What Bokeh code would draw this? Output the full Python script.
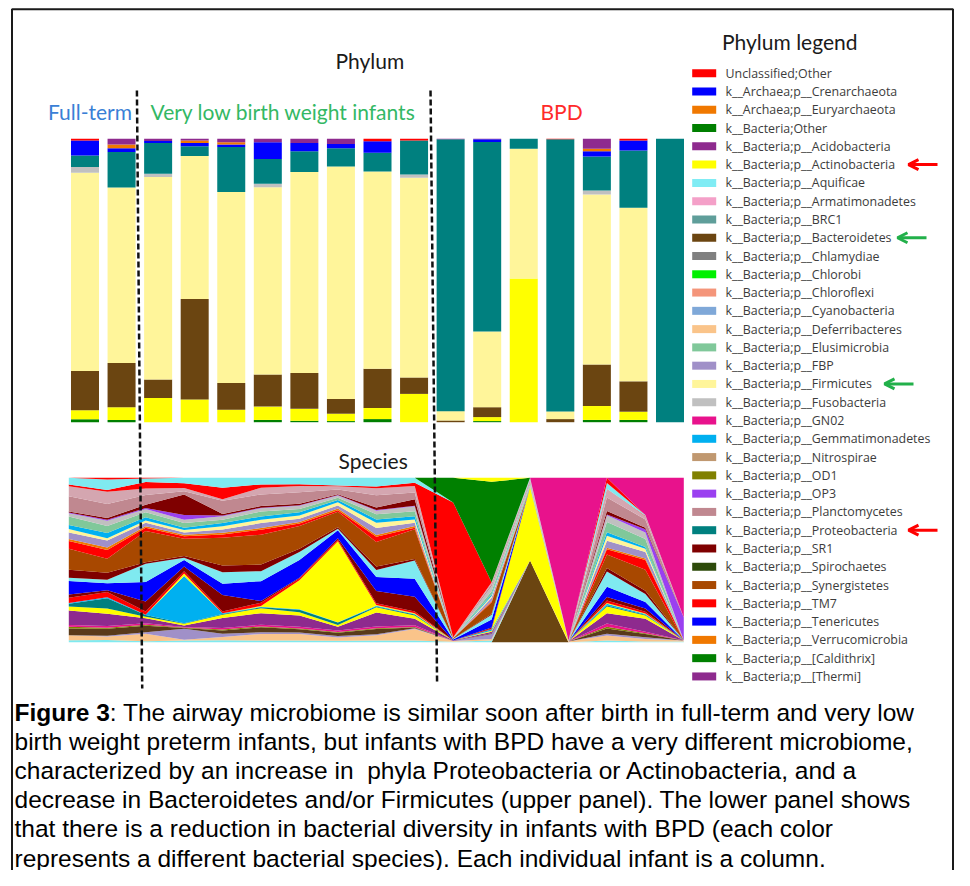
import numpy as np
from bokeh.plotting import figure
from bokeh.models import Range1d, Arrow, OpenHead, ColumnDataSource
from bokeh.embed import file_html
from bokeh.resources import INLINE
from bokeh.core.properties import value

# ---------------- data: phylum bars (percent, 17 infants) ----------------
infants = list(range(1, 18))

bar_bacteria_other = [1.0, 0.8, 0, 0, 0, 0.8, 0.5, 0.4, 1.1, 0, 0, 0.4, 0, 0, 0.8, 0.8, 0]
bar_actinobacteria = [3.2, 4.5, 8.5, 8.0, 4.4, 4.7, 4.2, 2.6, 3.9, 10.0, 0, 1.4, 50.7, 0, 4.9, 2.9, 0]
bar_bacteroidetes = [13.9, 15.6, 6.6, 35.5, 9.4, 11.3, 12.6, 5.2, 13.9, 5.8, 0.6, 3.5, 0, 1.1, 14.6, 10.7, 0]
bar_firmicutes = [70.0, 61.9, 71.4, 50.4, 67.4, 66.1, 70.9, 82.1, 69.6, 70.5, 3.3, 26.7, 45.8, 2.7, 60.0, 61.2, 0]
bar_fusobacteria = [2.0, 0, 1.2, 0, 0, 1.2, 0, 0, 0, 1.2, 0, 0, 0, 0, 1.4, 0, 0]
bar_proteobacteria = [4.1, 12.5, 10.8, 3.5, 15.9, 8.8, 7.3, 6.5, 6.6, 12.0, 95.9, 66.8, 3.5, 96.0, 12.0, 20.2, 100]
bar_tenericutes = [5.3, 1.4, 0.7, 1.1, 0.9, 5.9, 2.9, 1.5, 4.0, 0, 0, 0.9, 0, 0, 1.8, 3.5, 0]
bar_verrucomicrobia = [0, 1.3, 0, 0.9, 0.8, 0, 0, 0, 0, 0, 0, 0, 0, 0, 0.9, 0, 0]
bar_thermi = [0, 2.0, 0.8, 0.6, 1.2, 1.2, 1.5, 1.8, 0, 0, 0.2, 0.2, 0, 0, 3.5, 0, 0]
bar_unclassified = [0.6, 0, 0, 0, 0, 0, 0, 0, 0.9, 0.6, 0, 0, 0, 0.2, 0, 0.6, 0]

phyla = [
    "Unclassified;Other", "k__Archaea;p__Crenarchaeota", "k__Archaea;p__Euryarchaeota",
    "k__Bacteria;Other", "k__Bacteria;p__Acidobacteria", "k__Bacteria;p__Actinobacteria",
    "k__Bacteria;p__Aquificae", "k__Bacteria;p__Armatimonadetes", "k__Bacteria;p__BRC1",
    "k__Bacteria;p__Bacteroidetes", "k__Bacteria;p__Chlamydiae", "k__Bacteria;p__Chlorobi",
    "k__Bacteria;p__Chloroflexi", "k__Bacteria;p__Cyanobacteria", "k__Bacteria;p__Deferribacteres",
    "k__Bacteria;p__Elusimicrobia", "k__Bacteria;p__FBP", "k__Bacteria;p__Firmicutes",
    "k__Bacteria;p__Fusobacteria", "k__Bacteria;p__GN02", "k__Bacteria;p__Gemmatimonadetes",
    "k__Bacteria;p__Nitrospirae", "k__Bacteria;p__OD1", "k__Bacteria;p__OP3",
    "k__Bacteria;p__Planctomycetes", "k__Bacteria;p__Proteobacteria", "k__Bacteria;p__SR1",
    "k__Bacteria;p__Spirochaetes", "k__Bacteria;p__Synergistetes", "k__Bacteria;p__TM7",
    "k__Bacteria;p__Tenericutes", "k__Bacteria;p__Verrucomicrobia", "k__Bacteria;p__[Caldithrix]",
    "k__Bacteria;p__[Thermi]",
]
phylum_colors = [
    "#FF0000", "#0000FF", "#F07800", "#007F00", "#8E2A8E", "#FFFF00", "#80ECF4", "#F4A0C8",
    "#5F9E9A", "#6B4511", "#808080", "#00F000", "#F4957A", "#7FA8D8", "#FAC48A", "#80C89A",
    "#A090C8", "#FFF59A", "#C0C0C0", "#E8128C", "#00B0F0", "#C09870", "#808000", "#9A40F0",
    "#C08890", "#00807F", "#7F0000", "#2D4A0A", "#A84800", "#FF0000", "#0000FF", "#F07800",
    "#008000", "#8E2A8E",
]
bar_values = {
    "Unclassified;Other": bar_unclassified,
    "k__Bacteria;Other": bar_bacteria_other,
    "k__Bacteria;p__Actinobacteria": bar_actinobacteria,
    "k__Bacteria;p__Bacteroidetes": bar_bacteroidetes,
    "k__Bacteria;p__Firmicutes": bar_firmicutes,
    "k__Bacteria;p__Fusobacteria": bar_fusobacteria,
    "k__Bacteria;p__Proteobacteria": bar_proteobacteria,
    "k__Bacteria;p__Tenericutes": bar_tenericutes,
    "k__Bacteria;p__Verrucomicrobia": bar_verrucomicrobia,
    "k__Bacteria;p__[Thermi]": bar_thermi,
}
highlight_red = ["k__Bacteria;p__Actinobacteria", "k__Bacteria;p__Proteobacteria"]
highlight_green = ["k__Bacteria;p__Bacteroidetes", "k__Bacteria;p__Firmicutes"]

# ---------------- data: species stream (relative abundance, bottom -> top) ----------------
sp_brown_bpd = [0, 0, 0, 0, 0, 0, 0, 0, 0, 0, 0, 0, 50, 0, 0, 0, 0]
sp_cyan_base = [1.2, 1.2, 0.6, 1, 1.2, 1, 1, 1, 1, 1, 0.3, 1, 0, 0, 1, 0.5, 0.5]
sp_peach = [3, 2, 4.5, 0.5, 2, 4, 4, 2, 3, 7, 0.5, 1, 0, 0.5, 3, 1.5, 0.5]
sp_lavender_low = [0, 0.5, 1, 7, 2, 1, 1, 1, 0.5, 0.5, 0, 3, 0, 0, 1, 1, 0]
sp_dark_lines = [4, 4, 4, 0.5, 2, 3, 2, 2, 3, 0.5, 0, 0.5, 0, 0, 3, 2, 0]
sp_olive = [1, 0.5, 0.5, 0.3, 0.5, 0.5, 0.5, 0.5, 0.5, 0.3, 0, 0, 0, 0, 1, 0.5, 0]
sp_pink_line = [1, 1, 1, 0.3, 1, 1, 1, 1, 1, 1, 0, 0, 0, 0, 2, 1, 0]
sp_purple = [8.7, 7, 3, 1, 6, 7, 7, 2.5, 8, 4, 0.3, 1, 0, 0, 6, 8, 0]
sp_yellow_thin = [2.4, 3, 1, 1, 2, 3, 2, 1, 3, 2, 0, 0.5, 0, 0, 4, 2, 0]
sp_teal = [1.6, 6, 1, 0.3, 0.5, 0.5, 1.5, 1.6, 0.5, 0.5, 0, 0, 0, 0, 0.5, 0.5, 0]
sp_skyblue = [0.5, 0.5, 0.2, 30, 0.5, 0.3, 0.3, 0.3, 0.3, 0.3, 0, 1, 0, 0, 1, 0.5, 0]
sp_yellow_big = [0, 0, 0, 1.5, 0, 0.5, 18, 52, 0.5, 0.5, 0, 0, 45, 0, 0.5, 0.3, 0]
sp_red_thin = [3, 3, 2, 1.5, 1, 2, 1, 1, 1, 1, 0, 0.5, 0, 0, 1.5, 1, 0]
sp_darkred_a = [2, 1, 6, 3, 10, 1, 0.5, 1, 7, 9, 0, 0.5, 0, 0, 2, 2, 0]
sp_blue = [8, 4, 12, 4, 7, 12, 11, 5, 8, 11, 0.5, 5, 0, 0, 6, 4, 0]
sp_lightcyan = [2, 2, 11, 1.5, 7, 6, 5, 1, 4, 11, 0.3, 3, 0, 0, 9, 5, 0]
sp_darkred_b = [4.7, 4, 1, 1, 4, 4, 2, 1, 2, 1, 0, 0.5, 0, 0, 2, 2, 0]
sp_synergistetes = [12.6, 8, 19, 11, 17, 18, 14, 10, 14, 18, 0.5, 7, 0, 0, 8, 13, 0]
sp_red_mid = [4.5, 5, 2, 1.5, 2, 3, 1.5, 1, 3, 1, 0, 0.5, 0, 0, 3, 6, 0]
sp_orange = [1.2, 1.4, 1, 1, 1, 1, 1, 1, 1, 1, 0, 0.5, 0, 0, 1, 1, 0]
sp_lavender = [4, 4, 2, 1.5, 2, 3, 2, 2, 4, 2, 0, 2, 0, 0, 4, 4, 0]
sp_lightyellow = [2, 1.4, 1.5, 1.5, 2, 2, 2, 2, 3, 2, 0, 1, 0, 0, 3, 2, 0]
sp_sky_thin = [2.4, 3, 2, 1.5, 2, 2, 2, 1.5, 2, 2, 0, 1, 0, 0, 2, 1, 0]
sp_lightgreen = [5, 4, 3, 3, 2, 3, 2, 1.5, 3, 3, 0, 2, 1, 0, 6, 5, 0]
sp_grey = [2, 3, 2, 2, 2, 2, 2, 1.5, 2, 3, 0.3, 3, 2, 0.5, 4, 4, 0]
sp_violet = [0.5, 0.5, 0.5, 3, 0.5, 0.3, 0.3, 0.3, 0.3, 0.3, 0, 0, 0, 0, 0.5, 2, 14]
sp_darkred_c = [0.6, 1, 2, 13, 1, 1, 1, 0.5, 1.5, 4, 0, 0, 0, 0, 2, 1, 0]
sp_dusty = [9, 8, 6, 2, 8, 7, 7, 3, 7, 4, 0.3, 1.5, 1, 0, 8, 5, 0]
sp_pink_top = [6, 7, 4, 2, 1, 4, 4, 2, 4, 4, 0, 1, 1, 0, 5, 2, 0]
sp_red_top = [1, 1, 4, 3, 7, 2, 1, 0.5, 1, 2, 82, 0, 0, 0, 0, 0.3, 0]
sp_cyan_top = [4, 6, 2, 3.5, 6, 4, 4, 5, 5, 3, 0, 0, 0.7, 0, 3.5, 0.5, 0]
sp_red_cap = [0, 1, 0.5, 0, 0, 0, 0, 0, 0, 0, 0, 0, 0, 0, 3, 0, 0]
sp_green = [0, 0, 0, 0, 0, 0, 0, 0, 0, 0, 15, 62, 0, 0, 0, 0, 0]
sp_yellow_cap = [0, 0, 0, 0, 0, 0, 0, 0, 0, 0, 0, 2.5, 0, 0, 0, 0, 0]
sp_magenta = [0, 0, 0, 0, 0, 0, 0, 0, 0, 0, 0, 0, 0, 99, 0, 23, 85]

species_layers = [
    (sp_brown_bpd, "#6B4511"), (sp_cyan_base, "#7FEAF0"), (sp_peach, "#FAC48A"),
    (sp_lavender_low, "#A090C8"), (sp_dark_lines, "#5A3A1A"), (sp_olive, "#808000"),
    (sp_pink_line, "#E8128C"), (sp_purple, "#8E2A8E"), (sp_yellow_thin, "#FFFF00"),
    (sp_teal, "#00807F"), (sp_skyblue, "#00B0F0"), (sp_yellow_big, "#FFFF00"),
    (sp_red_thin, "#FF0000"), (sp_darkred_a, "#7F0000"), (sp_blue, "#0000FF"),
    (sp_lightcyan, "#7FEAF0"), (sp_darkred_b, "#7F0000"), (sp_synergistetes, "#A84800"),
    (sp_red_mid, "#FF0000"), (sp_orange, "#F07800"), (sp_lavender, "#A090C8"),
    (sp_lightyellow, "#FFF59A"), (sp_sky_thin, "#00B0F0"), (sp_lightgreen, "#80C89A"),
    (sp_grey, "#C0C0C0"), (sp_violet, "#9A40F0"), (sp_darkred_c, "#7F0000"),
    (sp_dusty, "#C08890"), (sp_pink_top, "#D4A6B0"), (sp_red_top, "#FF0000"),
    (sp_cyan_top, "#7FEAF0"), (sp_red_cap, "#FF0000"), (sp_green, "#008000"),
    (sp_yellow_cap, "#FFFF00"), (sp_magenta, "#E8128C"),
]

caption_lines = [
    ": The airway microbiome is similar soon after birth in full-term and very low",
    "birth weight preterm infants, but infants with BPD have a very different microbiome,",
    "characterized by an increase in \u00a0phyla Proteobacteria or Actinobacteria, and a",
    "decrease in Bacteroidetes and/or Firmicutes (upper panel). The lower panel shows",
    "that there is a reduction in bacterial diversity in infants with BPD (each color",
    "represents a different bacterial species). Each individual infant is a column.",
]

# ---------------- layout (picture pixels) ----------------
W, H = 954, 870


def frame_range(v_a, px_a, v_b, px_b, px_lo, px_hi):
    s = (px_b - px_a) / (v_b - v_a)
    return Range1d(start=v_a + (px_lo - px_a) / s, end=v_a + (px_hi - px_a) / s)


p = figure(width=W, height=H, output_backend="svg", toolbar_location=None,
           x_range=Range1d(0, W), y_range=Range1d(H, 0),
           x_axis_location=None, y_axis_location=None, min_border=0,
           outline_line_color=None, background_fill_color="white",
           border_fill_color="white")
p.grid.visible = False

p.extra_x_ranges = {
    "bx": frame_range(1, 84.5, 17, 669.5, 0, W),
    "sx": frame_range(0, 68.3, 16, 683.3, 0, W),
}
p.extra_y_ranges = {
    "by": frame_range(0, 421.7, 100, 138.3, H, 0),
    "sy": frame_range(0, 641.7, 100, 477.3, H, 0),
}

# ---- phylum stacked bars (100 %) ----
stack_order = list(range(1, len(phyla))) + [0]
zeros = [0.0] * len(infants)
raw = np.array([bar_values.get(phyla[i], zeros) for i in stack_order], dtype=float)
raw = raw / raw.sum(axis=0) * 100.0
bar_data = {"x": infants}
keys = []
for j, i in enumerate(stack_order):
    k = "ph%d" % i
    keys.append(k)
    bar_data[k] = raw[j]
p.vbar_stack(keys, x="x", width=0.766, color=[phylum_colors[i] for i in stack_order],
             line_color=None, source=ColumnDataSource(bar_data),
             x_range_name="bx", y_range_name="by")

# ---- species stream (100 % stacked area) ----
sp = np.array([l[0] for l in species_layers], dtype=float)
sp = sp / sp.sum(axis=0) * 100.0
sp_data = {"x": list(range(len(infants)))}
sp_keys = []
for j in range(len(species_layers)):
    k = "s%d" % j
    sp_keys.append(k)
    sp_data[k] = sp[j]
p.varea_stack(sp_keys, x="x", color=[l[1] for l in species_layers],
              source=ColumnDataSource(sp_data), x_range_name="sx", y_range_name="sy")

# ---- group separators (dashed) ----
p.segment(x0=[2.42, 10.45], y0=[90, 90], x1=[2.565, 10.63], y1=[688, 684],
          x_range_name="bx", line_color="#111111", line_width=2.5, line_dash="6 3")

# ---- outer frame ----
p.line(x=[11.5, 11.5, 952.5, 952.5], y=[H + 2, 8.8, 8.8, H + 2],
       line_color="#1a1a1a", line_width=2)

# ---- titles (vertically centred) ----
TF = value("Lato")
title_kw = dict(text_font=TF, text_font_size="21px", text_baseline="middle")
p.text(x=[335], y=[59.5], text=["Phylum"], text_color="#1a1a1a", **title_kw)
p.text(x=[338], y=[459.5], text=["Species"], text_color="#1a1a1a", **title_kw)
p.text(x=[47.5], y=[110.5], text=["Full-term"], text_color="#3A7FD6", **title_kw)
p.text(x=[150], y=[110.5], text=["Very low birth weight infants"], text_color="#33B864", **title_kw)
p.text(x=[540], y=[110.5], text=["BPD"], text_color="#FF2A2A", **title_kw)
p.text(x=[721.5], y=[41], text=["Phylum legend"], text_color="#1a1a1a", **title_kw)

# ---- legend ----
row0, dy = 72.7, 18.28
ly = [row0 + k * dy for k in range(len(phyla))]
p.rect(x=[703.7] * len(phyla), y=ly, width=24, height=8, fill_color=phylum_colors,
       line_color=None)
p.text(x=[725] * len(phyla), y=ly, text=phyla, text_font=value("Open Sans"),
       text_font_size="12.4px", text_color="#3c3c3c", text_baseline="middle")

for name, col in [(n, "#FF0000") for n in highlight_red] + [(n, "#22B04A") for n in highlight_green]:
    k = phyla.index(name)
    x_head = {"k__Bacteria;p__Bacteroidetes": 897, "k__Bacteria;p__Firmicutes": 884}.get(name, 908)
    p.add_layout(Arrow(end=OpenHead(line_color=col, line_width=3, size=10),
                       x_start=x_head + 29, y_start=ly[k], x_end=x_head, y_end=ly[k],
                       line_color=col, line_width=3))

# ---- caption ----
CF = value("Liberation Sans")
cap_y = [711.5 + 29.2 * i for i in range(len(caption_lines))]
cap_kw = dict(text_font=CF, text_font_size="24.5px", text_color="#000000", text_baseline="middle")
p.text(x=[14], y=[cap_y[0]], text=["Figure 3"], text_font_style="bold", **cap_kw)
cap_x = [14 + 95.3] + [14] * (len(caption_lines) - 1)
p.text(x=cap_x, y=cap_y, text=caption_lines, **cap_kw)

open("out.html", "w").write(file_html(p, INLINE))
